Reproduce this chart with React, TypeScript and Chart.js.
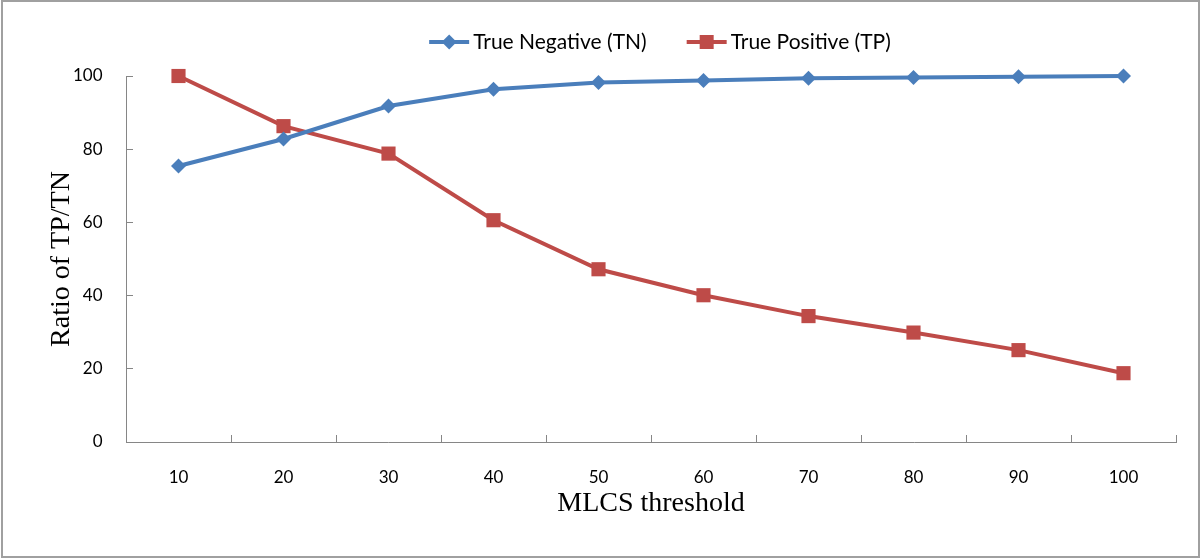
import React, { useEffect, useRef } from "react";
import { Chart, registerables } from "chart.js";

Chart.register(...registerables);

// ---- data ----
const thresholds = ["10", "20", "30", "40", "50", "60", "70", "80", "90", "100"];
const trueNegative = [75.4, 82.8, 91.8, 96.4, 98.2, 98.8, 99.4, 99.6, 99.8, 100];
const truePositive = [100, 86.3, 78.8, 60.6, 47.2, 40.1, 34.4, 29.9, 25.1, 18.8];
const yTickValues = [0, 20, 40, 60, 80, 100];
const seriesNames = ["True Negative (TN)", "True Positive (TP)"];
const xTitle = "MLCS threshold";
const yTitle = "Ratio of TP/TN";

// ---- styles ----
const BLUE = "#4a7ebb";
const RED = "#be4b48";
const AXIS = "#868686";
const SANS = "Lato, 'Liberation Sans', sans-serif";
const SERIF = "'Liberation Serif', 'Times New Roman', serif";

function drawMarker(ctx: CanvasRenderingContext2D, style: string, x: number, y: number, color: string) {
  ctx.fillStyle = color;
  ctx.beginPath();
  if (style === "rectRot") {
    const r = 7.5;
    ctx.moveTo(x - r, y);
    ctx.lineTo(x, y - r);
    ctx.lineTo(x + r, y);
    ctx.lineTo(x, y + r);
    ctx.closePath();
  } else {
    const s = 7;
    ctx.rect(x - s, y - s, 2 * s, 2 * s);
  }
  ctx.fill();
}

const legendPlugin = {
  id: "excelLegend",
  afterDraw(chart: any) {
    const ctx: CanvasRenderingContext2D = chart.ctx;
    const ca = chart.chartArea;
    ctx.save();
    ctx.font = `21px ${SANS}`;
    const iconW = 40;
    const gapText = 4;
    const gapItem = 40;
    const items = chart.data.datasets.map((ds: any) => ({ ds, w: ctx.measureText(ds.label).width }));
    const total =
      items.reduce((s: number, it: any) => s + iconW + gapText + it.w, 0) + gapItem * (items.length - 1);
    let x = (ca.left + ca.right) / 2 + 9 - total / 2;
    const y = 42;
    for (const it of items) {
      const ds = it.ds;
      ctx.strokeStyle = ds.borderColor;
      ctx.lineWidth = ds.borderWidth;
      ctx.beginPath();
      ctx.moveTo(x, y);
      ctx.lineTo(x + iconW, y);
      ctx.stroke();
      drawMarker(ctx, ds.pointStyle, x + iconW / 2, y, ds.borderColor);
      ctx.fillStyle = "#000";
      ctx.textAlign = "left";
      ctx.textBaseline = "middle";
      ctx.fillText(ds.label, x + iconW + gapText, y);
      x += iconW + gapText + it.w + gapItem;
    }
    ctx.restore();
  },
};

const framePlugin = {
  id: "frame",
  beforeDraw(chart: any) {
    const ctx: CanvasRenderingContext2D = chart.ctx;
    ctx.save();
    ctx.fillStyle = "#fff";
    ctx.fillRect(0, 0, chart.width, chart.height);
    ctx.restore();
  },
  afterDraw(chart: any) {
    const ctx: CanvasRenderingContext2D = chart.ctx;
    ctx.save();
    ctx.strokeStyle = "#a0a0a0";
    ctx.lineWidth = 2;
    ctx.strokeRect(2, 1, chart.width - 3, chart.height - 3);
    ctx.restore();
  },
};

export default function App() {
  const canvasRef = useRef<HTMLCanvasElement | null>(null);

  useEffect(() => {
    const canvas = canvasRef.current;
    if (!canvas) return;
    const chart = new Chart(canvas, {
      type: "line",
      data: {
        labels: thresholds,
        datasets: [
          {
            label: seriesNames[0],
            data: trueNegative,
            borderColor: BLUE,
            backgroundColor: BLUE,
            borderWidth: 4,
            pointStyle: "rectRot",
            pointRadius: 7.5,
            pointBorderWidth: 0,
            pointBackgroundColor: BLUE,
            tension: 0,
            clip: false,
          },
          {
            label: seriesNames[1],
            data: truePositive,
            borderColor: RED,
            backgroundColor: RED,
            borderWidth: 4,
            pointStyle: "rect",
            pointRadius: 10,
            pointBorderWidth: 0,
            pointBackgroundColor: RED,
            tension: 0,
            clip: false,
          },
        ],
      },
      options: {
        responsive: false,
        animation: false,
        devicePixelRatio: 1,
        layout: { padding: { top: 76, right: 24, bottom: 0, left: 0 } },
        plugins: {
          legend: { display: false },
          tooltip: { enabled: false },
        },
        scales: {
          x: {
            offset: true,
            grid: {
              offset: true,
              drawOnChartArea: false,
              drawTicks: true,
              tickLength: -7,
              color: AXIS,
            },
            border: { color: AXIS, width: 1 },
            ticks: { color: "#000", font: { family: SANS, size: 17 }, padding: 32, maxRotation: 0 },
            title: {
              display: true,
              text: xTitle,
              color: "#000",
              font: { family: SERIF, size: 28 },
              padding: { top: 0, bottom: 39 },
            },
            afterFit: (s: any) => {
              s.height = 117;
            },
          },
          y: {
            min: 0,
            max: 100,
            afterBuildTicks: (s: any) => {
              s.ticks = yTickValues.map((v) => ({ value: v }));
            },
            grid: {
              drawOnChartArea: false,
              drawTicks: true,
              tickLength: -7,
              color: AXIS,
            },
            border: { color: AXIS, width: 1 },
            ticks: { color: "#000", font: { family: SANS, size: 17 }, padding: 30.5 },
            title: {
              display: true,
              text: yTitle,
              color: "#000",
              font: { family: SERIF, size: 28 },
              padding: { top: 45, bottom: 0 },
            },
            afterFit: (s: any) => {
              s.width = 126;
            },
          },
        },
      },
      plugins: [framePlugin, legendPlugin],
    });
    return () => chart.destroy();
  }, []);

  return (
    <div style={{ position: "fixed", left: 0, top: 0, width: 1200, height: 559, background: "#fff" }}>
      <canvas ref={canvasRef} width={1200} height={559} style={{ display: "block" }} />
    </div>
  );
}
